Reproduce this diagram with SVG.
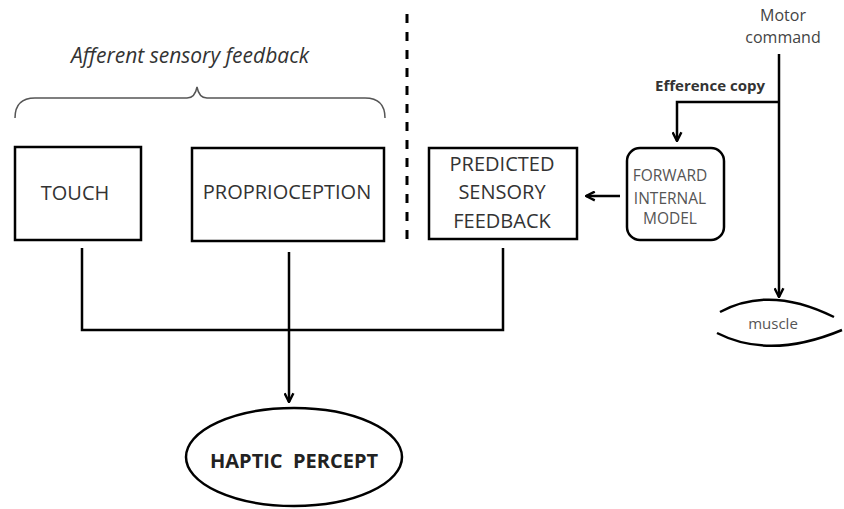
<svg xmlns="http://www.w3.org/2000/svg" width="844" height="509" viewBox="0 0 844 509">
<defs>
<style>
text{font-family:"Open Sans","Liberation Sans",sans-serif;fill:#333}
.box{fill:#fff;stroke:#000;stroke-width:2.5}
.ln{fill:none;stroke:#000;stroke-width:2.5}
.lbl{font-size:20px;text-anchor:middle}
.sm{font-size:15.5px;text-anchor:middle;fill:#555}
</style>
<marker id="arr" viewBox="0 0 10 10" refX="9" refY="5" markerWidth="11" markerHeight="11" markerUnits="userSpaceOnUse" orient="auto">
<path d="M1,1 L9,5 L1,9" fill="none" stroke="#000" stroke-width="2.2"/>
</marker>
</defs>
<rect width="844" height="509" fill="#fff"/>

<g id="brace">
<text x="190" y="63" font-size="21" font-style="italic" text-anchor="middle">Afferent sensory feedback</text>
<path d="M15,118 Q15,98 35,98 L187,98 Q195,98 197,87 Q199,98 207,98 L365,98 Q385,98 385,118" fill="none" stroke="#555" stroke-width="1.5"/>
</g>

<g id="divider">
<line x1="407" y1="14" x2="407" y2="245" stroke="#000" stroke-width="3" stroke-dasharray="9,9"/>
</g>

<g id="touch">
<rect class="box" x="15" y="147" width="126" height="93"/>
<text class="lbl" x="75" y="200">TOUCH</text>
</g>

<g id="proprioception">
<rect class="box" x="192" y="148" width="192" height="93"/>
<text class="lbl" x="287" y="199">PROPRIOCEPTION</text>
</g>

<g id="predicted">
<rect class="box" x="429" y="148" width="148" height="91"/>
<text class="lbl" x="502" y="171">PREDICTED</text>
<text class="lbl" x="502" y="199">SENSORY</text>
<text class="lbl" x="502" y="228">FEEDBACK</text>
</g>

<g id="forward">
<rect class="box" x="627" y="148" width="97" height="92" rx="13" ry="13"/>
<text class="sm" x="670" y="181">FORWARD</text>
<text class="sm" x="670" y="204">INTERNAL</text>
<text class="sm" x="670" y="224">MODEL</text>
</g>

<g id="motor">
<text x="783" y="21" font-size="16" text-anchor="middle" style="fill:#444">Motor</text>
<text x="783" y="43" font-size="16" text-anchor="middle" style="fill:#444">command</text>
</g>

<g id="efference">
<text x="710" y="91" font-size="15" font-weight="bold" text-anchor="middle">Efference copy</text>
</g>

<g id="muscle">
<path class="ln" d="M720,312 Q770,285 834,317"/>
<path class="ln" d="M717,333 Q770,360 842,330"/>
<text x="773" y="329" font-size="15" text-anchor="middle" style="fill:#555">muscle</text>
</g>

<g id="haptic">
<ellipse cx="294" cy="457" rx="108" ry="49" fill="#fff" stroke="#000" stroke-width="2.5"/>
<text x="294" y="468" font-size="20" font-weight="bold" text-anchor="middle" style="fill:#222;white-space:pre">HAPTIC  PERCEPT</text>
</g>

<g id="connectors">
<polyline class="ln" points="82,248 82,330 503,330 503,248"/>
<line class="ln" x1="289" y1="252" x2="289" y2="402" marker-end="url(#arr)"/>
<line class="ln" x1="620" y1="196" x2="586" y2="196" marker-end="url(#arr)"/>
<line class="ln" x1="779" y1="54" x2="779" y2="297" marker-end="url(#arr)"/>
<polyline class="ln" points="779,102 677,102 677,141" marker-end="url(#arr)"/>
</g>
</svg>
